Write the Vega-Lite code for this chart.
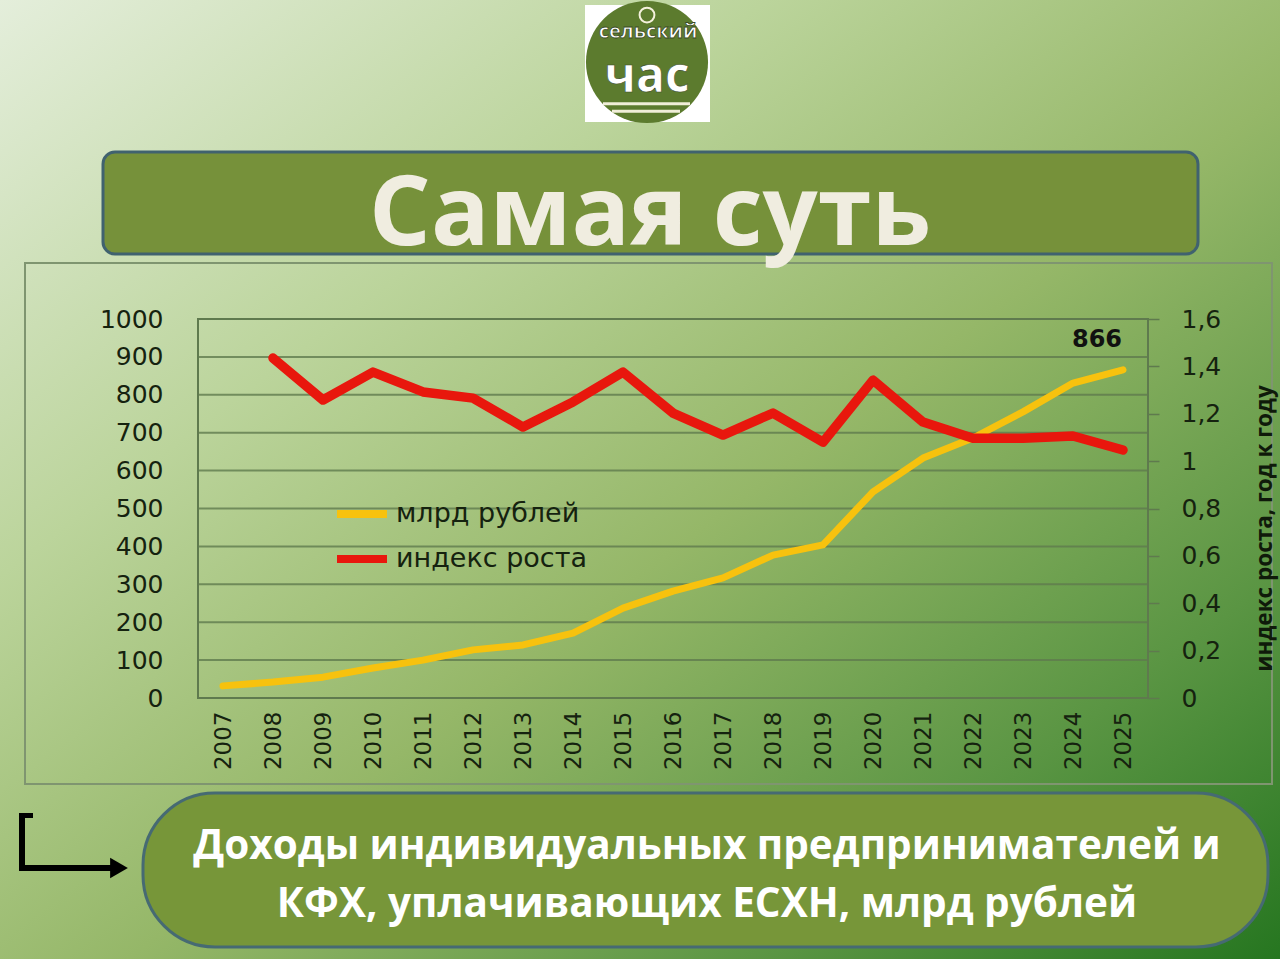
{
  "$schema": "https://vega.github.io/schema/vega-lite/v6.json",
  "width": 1280,
  "height": 959,
  "autosize": {"type": "none"},
  "padding": 0,
  "background": "#eef2ea",
  "data": {
    "values": [
      {"year": 2007, "rub": 32, "idx": null},
      {"year": 2008, "rub": 42, "idx": 1.435},
      {"year": 2009, "rub": 55, "idx": 1.258},
      {"year": 2010, "rub": 79, "idx": 1.376},
      {"year": 2011, "rub": 100, "idx": 1.292},
      {"year": 2012, "rub": 127, "idx": 1.266},
      {"year": 2013, "rub": 140, "idx": 1.144},
      {"year": 2014, "rub": 171, "idx": 1.25},
      {"year": 2015, "rub": 237, "idx": 1.376},
      {"year": 2016, "rub": 282, "idx": 1.203},
      {"year": 2017, "rub": 317, "idx": 1.11},
      {"year": 2018, "rub": 377, "idx": 1.203},
      {"year": 2019, "rub": 404, "idx": 1.08},
      {"year": 2020, "rub": 544, "idx": 1.342},
      {"year": 2021, "rub": 633, "idx": 1.165},
      {"year": 2022, "rub": 686, "idx": 1.097},
      {"year": 2023, "rub": 755, "idx": 1.097},
      {"year": 2024, "rub": 831, "idx": 1.106},
      {"year": 2025, "rub": 866, "idx": 1.047}
    ]
  },
  "layer": [
    {
      "layer": [
        {
          "data": {"values": [{}]},
          "mark": {
            "type": "rect",
            "color": {
              "gradient": "linear",
              "x1": 0, "y1": 0, "x2": 1, "y2": 1,
              "stops": [
                {"offset": 0, "color": "#e4eedb"},
                {"offset": 0.3, "color": "#bbd49b"},
                {"offset": 0.55, "color": "#95b768"},
                {"offset": 0.8, "color": "#5a9543"},
                {"offset": 1, "color": "#267620"}
              ]
            }
          },
          "encoding": {}
        },
        {
          "data": {"values": [{}]},
          "mark": {"type": "rect", "fill": null, "stroke": "#7f9570", "strokeWidth": 2},
          "encoding": {
            "x": {"datum": 2003.04}, "x2": {"datum": 2027.98},
            "y": {"datum": 1147.8}, "y2": {"datum": -226.9}
          }
        },
        {
          "data": {"values": [{}]},
          "mark": {"type": "rect", "fill": "#76913a", "stroke": "#40626f", "strokeWidth": 3, "cornerRadius": 12},
          "encoding": {
            "x": {"datum": 2004.6}, "x2": {"datum": 2026.5},
            "y": {"datum": 1440.6}, "y2": {"datum": 1171.5}
          }
        },
        {
          "data": {"values": [{}]},
          "mark": {"type": "text", "text": "Самая суть", "font": "Open Sans", "fontWeight": "bold", "fontSize": 97, "color": "#f0ede0", "align": "center", "baseline": "alphabetic"},
          "encoding": {"x": {"datum": 2015.54}, "y": {"datum": 1195.3}}
        },
        {
          "data": {"values": [{}]},
          "mark": {"type": "rect", "fill": "#ffffff"},
          "encoding": {
            "x": {"datum": 2014.24}, "x2": {"datum": 2016.74},
            "y": {"datum": 1828.5}, "y2": {"datum": 1519.8}
          }
        },
        {
          "data": {"values": [{}]},
          "mark": {"type": "point", "shape": "circle", "filled": true, "size": 14900, "color": "#5c7b2e", "opacity": 1},
          "encoding": {"x": {"datum": 2015.48}, "y": {"datum": 1678.1}}
        },
        {
          "data": {"values": [{}]},
          "mark": {"type": "point", "shape": "circle", "filled": false, "size": 220, "color": "#f4f1dc", "strokeWidth": 2, "opacity": 1},
          "encoding": {"x": {"datum": 2015.48}, "y": {"datum": 1802}}
        },
        {
          "data": {"values": [{}]},
          "mark": {"type": "text", "text": "час", "font": "Open Sans", "fontWeight": "bold", "fontSize": 48, "color": "#ffffff", "stroke": "#3a4a26", "strokeWidth": 0.6, "align": "center", "baseline": "alphabetic"},
          "encoding": {"x": {"datum": 2015.48}, "y": {"datum": 1599}}
        },
        {
          "data": {"values": [{}]},
          "mark": {"type": "text", "text": "сельский", "font": "Open Sans", "fontWeight": "bold", "fontSize": 20, "color": "#ffffff", "stroke": "#3a4a26", "strokeWidth": 0.8, "align": "center", "baseline": "alphabetic"},
          "encoding": {"x": {"datum": 2015.5}, "y": {"datum": 1741.4}}
        },
        {
          "data": {"values": [{}]},
          "mark": {"type": "rule", "color": "#f0eed8", "strokeWidth": 3},
          "encoding": {"x": {"datum": 2014.6}, "x2": {"datum": 2016.34}, "y": {"datum": 1568}}
        },
        {
          "data": {"values": [{}]},
          "mark": {"type": "rule", "color": "#f0eed8", "strokeWidth": 3},
          "encoding": {"x": {"datum": 2014.78}, "x2": {"datum": 2016.14}, "y": {"datum": 1548}}
        },
        {
          "data": {"values": [{}]},
          "mark": {"type": "rect", "fill": "#779639", "stroke": "#466a73", "strokeWidth": 3, "cornerRadius": 72},
          "encoding": {
            "x": {"datum": 2005.4}, "x2": {"datum": 2027.9},
            "y": {"datum": -250.7}, "y2": {"datum": -657}
          }
        },
        {
          "data": {"values": [{}]},
          "mark": {
            "type": "text",
            "text": ["Доходы индивидуальных предпринимателей и", "КФХ, уплачивающих ЕСХН, млрд рублей"],
            "font": "Open Sans", "fontWeight": "bold", "fontSize": 40.5, "lineHeight": 58,
            "color": "#ffffff", "align": "center", "baseline": "alphabetic"
          },
          "encoding": {"x": {"datum": 2016.68}, "y": {"datum": -425}}
        },
        {
          "data": {"values": [{}]},
          "mark": {"type": "rule", "color": "#000000", "strokeWidth": 6},
          "encoding": {"x": {"datum": 2002.98}, "y": {"datum": -308.7}, "y2": {"datum": -453.8}}
        },
        {
          "data": {"values": [{}]},
          "mark": {"type": "rule", "color": "#000000", "strokeWidth": 6},
          "encoding": {"x": {"datum": 2002.92}, "x2": {"datum": 2004.8}, "y": {"datum": -448.5}}
        },
        {
          "data": {"values": [{}]},
          "mark": {"type": "rule", "color": "#000000", "strokeWidth": 5},
          "encoding": {"x": {"datum": 2002.92}, "x2": {"datum": 2003.2}, "y": {"datum": -310}}
        },
        {
          "data": {"values": [{}]},
          "mark": {"type": "point", "shape": "triangle-right", "filled": true, "size": 420, "color": "#000000", "opacity": 1},
          "encoding": {"x": {"datum": 2004.92}, "y": {"datum": -448.5}}
        },
        {
          "data": {"values": [{"g": 100}, {"g": 200}, {"g": 300}, {"g": 400}, {"g": 500}, {"g": 600}, {"g": 700}, {"g": 800}, {"g": 900}]},
          "mark": {"type": "rule", "color": "#5f7a4e", "strokeWidth": 2, "opacity": 0.8},
          "encoding": {
            "x": {"datum": 2006.5}, "x2": {"datum": 2025.5},
            "y": {"field": "g", "type": "quantitative"}
          }
        },
        {
          "data": {"values": [{}]},
          "mark": {"type": "rect", "fill": null, "stroke": "#5f7a4e", "strokeWidth": 2},
          "encoding": {
            "x": {"datum": 2006.5}, "x2": {"datum": 2025.5},
            "y": {"datum": 0}, "y2": {"datum": 1000}
          }
        },
        {
          "mark": {"type": "line", "strokeWidth": 7, "strokeCap": "round", "strokeJoin": "round"},
          "encoding": {
            "x": {
              "field": "year", "type": "quantitative",
              "scale": {"domain": [2002.54, 2028.14], "nice": false, "zero": false},
              "axis": {
                "orient": "bottom", "offset": -261, "title": null, "zindex": 1,
                "values": [2007, 2008, 2009, 2010, 2011, 2012, 2013, 2014, 2015, 2016, 2017, 2018, 2019, 2020, 2021, 2022, 2023, 2024, 2025],
                "format": "d", "labelAngle": 270, "labelFontSize": 23, "labelFont": "DejaVu Sans",
                "labelColor": "#15220f", "labelPadding": 13, "ticks": false, "domain": false, "grid": false,
                "labelFlush": false, "labelOverlap": false, "labelBound": false
              }
            },
            "y": {
              "field": "rub", "type": "quantitative",
              "scale": {"domain": [-688.65, 1841.69], "nice": false, "zero": false},
              "axis": {
                "orient": "left", "offset": -198, "title": null, "zindex": 1,
                "values": [0, 100, 200, 300, 400, 500, 600, 700, 800, 900, 1000],
                "format": "d",
                "labelFontSize": 25, "labelFont": "DejaVu Sans", "labelColor": "#15220f",
                "labelPadding": 35, "ticks": false, "domain": false, "grid": false,
                "labelFlush": false, "labelOverlap": false, "labelBound": false
              }
            },
            "color": {
              "datum": "млрд рублей", "type": "nominal",
              "scale": {"domain": ["млрд рублей", "индекс роста"], "range": ["#f7c20e", "#e8170d"]},
              "legend": {
                "orient": "none", "legendX": 333, "legendY": 485, "title": null,
                "symbolType": "stroke", "symbolSize": 2500, "symbolStrokeWidth": 8,
                "labelFontSize": 27, "labelFont": "DejaVu Sans", "labelColor": "#15220f",
                "labelLimit": 400, "labelOffset": 5, "rowPadding": -8, "padding": 0
              }
            }
          }
        },
        {
          "transform": [{"filter": "datum.year == 2025"}],
          "mark": {"type": "text", "font": "DejaVu Sans", "fontWeight": "bold", "fontSize": 24, "color": "#111111", "dx": -26, "dy": -30},
          "encoding": {
            "x": {"field": "year", "type": "quantitative"},
            "y": {"field": "rub", "type": "quantitative"},
            "text": {"field": "rub", "type": "quantitative", "format": "d"}
          }
        }
      ]
    },
    {
      "mark": {"type": "line", "strokeWidth": 9.5, "strokeCap": "round", "strokeJoin": "round"},
      "encoding": {
        "x": {"field": "year", "type": "quantitative"},
        "y": {
          "field": "idx", "type": "quantitative",
          "scale": {"domain": [-1.10184, 2.9467], "nice": false, "zero": false},
          "axis": {
            "orient": "right", "offset": -133, "zindex": 1,
            "values": [0, 0.2, 0.4, 0.6, 0.8, 1, 1.2, 1.4, 1.6],
            "labelExpr": "replace(format(datum.value, '~g'), '.', ',')",
            "labelFontSize": 25, "labelFont": "DejaVu Sans", "labelColor": "#15220f",
            "ticks": true, "tickSize": 12, "tickColor": "#5f7a4e", "tickWidth": 1.5,
            "labelPadding": 22, "domain": false, "grid": false,
            "labelFlush": false, "labelOverlap": false, "labelBound": false,
            "title": "индекс роста, год к году", "titleAngle": 270, "titleX": 117, "titleY": 528,
            "titleAlign": "center", "titleBaseline": "middle", "titleFont": "Open Sans",
            "titleFontWeight": "bold", "titleFontSize": 22.5, "titleColor": "#0f1a0a"
          }
        },
        "color": {"datum": "индекс роста", "type": "nominal"}
      }
    }
  ],
  "resolve": {"scale": {"y": "independent"}},
  "config": {
    "view": {"stroke": null}
  }
}
